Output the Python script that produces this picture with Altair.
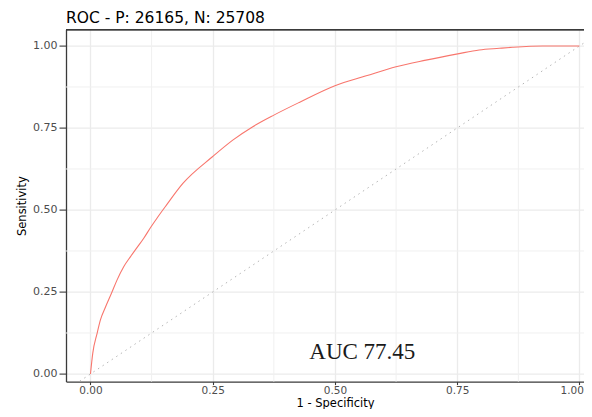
import altair as alt
import pandas as pd

# ROC curve values
fpr = [0, 0.0047, 0.0136, 0.0204, 0.031, 0.043, 0.0545, 0.068, 0.082, 0.0955,
       0.109, 0.124, 0.136, 0.153, 0.189, 0.25, 0.291, 0.332, 0.376, 0.427,
       0.500, 0.564, 0.625, 0.686, 0.751, 0.795, 0.836, 0.863, 0.924, 1.0]
sens = [0, 0.063, 0.124, 0.165, 0.205, 0.246, 0.287, 0.327, 0.358, 0.386,
        0.414, 0.449, 0.475, 0.510, 0.581, 0.663, 0.713, 0.754, 0.790, 0.828,
        0.879, 0.909, 0.937, 0.957, 0.976, 0.988, 0.993, 0.996, 1.0, 1.0]

diag_vals = [-0.05, 1.05]
major_ticks = [0, 0.25, 0.5, 0.75, 1.0]
minor_ticks = [0.125, 0.375, 0.625, 0.875]
auc_label = ["AUC 77.45"]
auc_pos_x = [0.556]
auc_pos_y = [0.045]
title_text = "ROC - P: 26165, N: 25708"

W = 518
H = 352

curve_df = pd.DataFrame({"fpr": fpr, "sens": sens, "i": list(range(len(fpr)))})
diag_df = pd.DataFrame({"fpr": diag_vals, "sens": diag_vals})
minor_df = pd.DataFrame({"v": minor_ticks})
auc_df = pd.DataFrame({"fpr": auc_pos_x, "sens": auc_pos_y, "label": auc_label})

xscale = alt.Scale(domain=[-0.05, 1.0093], nice=False, zero=False)
yscale = alt.Scale(domain=[-0.0232, 1.05], nice=False, zero=False)

xaxis = alt.Axis(values=major_ticks, format=".2f", tickSize=3, labelPadding=1,
                 labelFlush=6, labelFlushOffset=4, labelFontSize=10.5,
                 title="1 - Specificity", titleX=269, titleY=24.4,
                 titleBaseline="alphabetic", titleFontSize=11.5)
yaxis = alt.Axis(values=major_ticks, format=".2f", tickSize=7, labelPadding=2,
                 labelFlush=False, title="Sensitivity", titlePadding=5,
                 titleFontSize=11.5)

minor_v = alt.Chart(minor_df).mark_rule(color="#f0f0f0", strokeWidth=1).encode(
    x=alt.X("v:Q", scale=xscale, axis=xaxis)
)
minor_h = alt.Chart(minor_df).mark_rule(color="#f0f0f0", strokeWidth=1).encode(
    y=alt.Y("v:Q", scale=yscale, axis=yaxis)
)

diag = alt.Chart(diag_df).mark_line(
    clip=True, color="#b5b5b5", strokeWidth=1, strokeDash=[1.5, 4]
).encode(
    x=alt.X("fpr:Q", scale=xscale, axis=xaxis),
    y=alt.Y("sens:Q", scale=yscale, axis=yaxis),
)

curve = alt.Chart(curve_df).mark_line(
    color="#F8766D", strokeWidth=1.1, interpolate="monotone"
).encode(
    x=alt.X("fpr:Q", scale=xscale, axis=xaxis),
    y=alt.Y("sens:Q", scale=yscale, axis=yaxis),
    order="i:Q",
)

auc = alt.Chart(auc_df).mark_text(
    font="Liberation Serif", fontSize=23, color="#1a1a1a", align="center",
    baseline="alphabetic"
).encode(
    x=alt.X("fpr:Q", scale=xscale, axis=xaxis),
    y=alt.Y("sens:Q", scale=yscale, axis=yaxis),
    text="label:N",
)

top_border = alt.Chart(minor_df).mark_rule(color="#3a3a3a", strokeWidth=1.3).encode(
    x=alt.value(0), x2=alt.value(W), y=alt.value(0)
)

chart = alt.layer(minor_v, minor_h, diag, curve, auc, top_border).properties(
    width=W,
    height=H,
    title=alt.TitleParams(
        title_text, anchor="start", frame="group", font="DejaVu Sans",
        fontSize=15.5, fontWeight="normal", color="black", offset=2.5
    ),
    autosize=alt.AutoSizeParams(type="none"),
    padding={"left": 58, "top": 21.6, "right": 0, "bottom": 27.4},
).configure_view(
    stroke="transparent"
).configure_axis(
    domainColor="#3a3a3a",
    domainWidth=1.3,
    tickColor="#3a3a3a",
    tickWidth=1.1,
    gridColor="#ebebeb",
    gridWidth=1.3,
    labelFont="DejaVu Sans",
    labelFontSize=11,
    labelColor="#4d4d4d",
    titleFont="DejaVu Sans",
    titleFontSize=13.5,
    titleFontWeight="normal",
    titleColor="black",
)

chart.save("out.html", embed_options={"renderer": "svg", "actions": False})
